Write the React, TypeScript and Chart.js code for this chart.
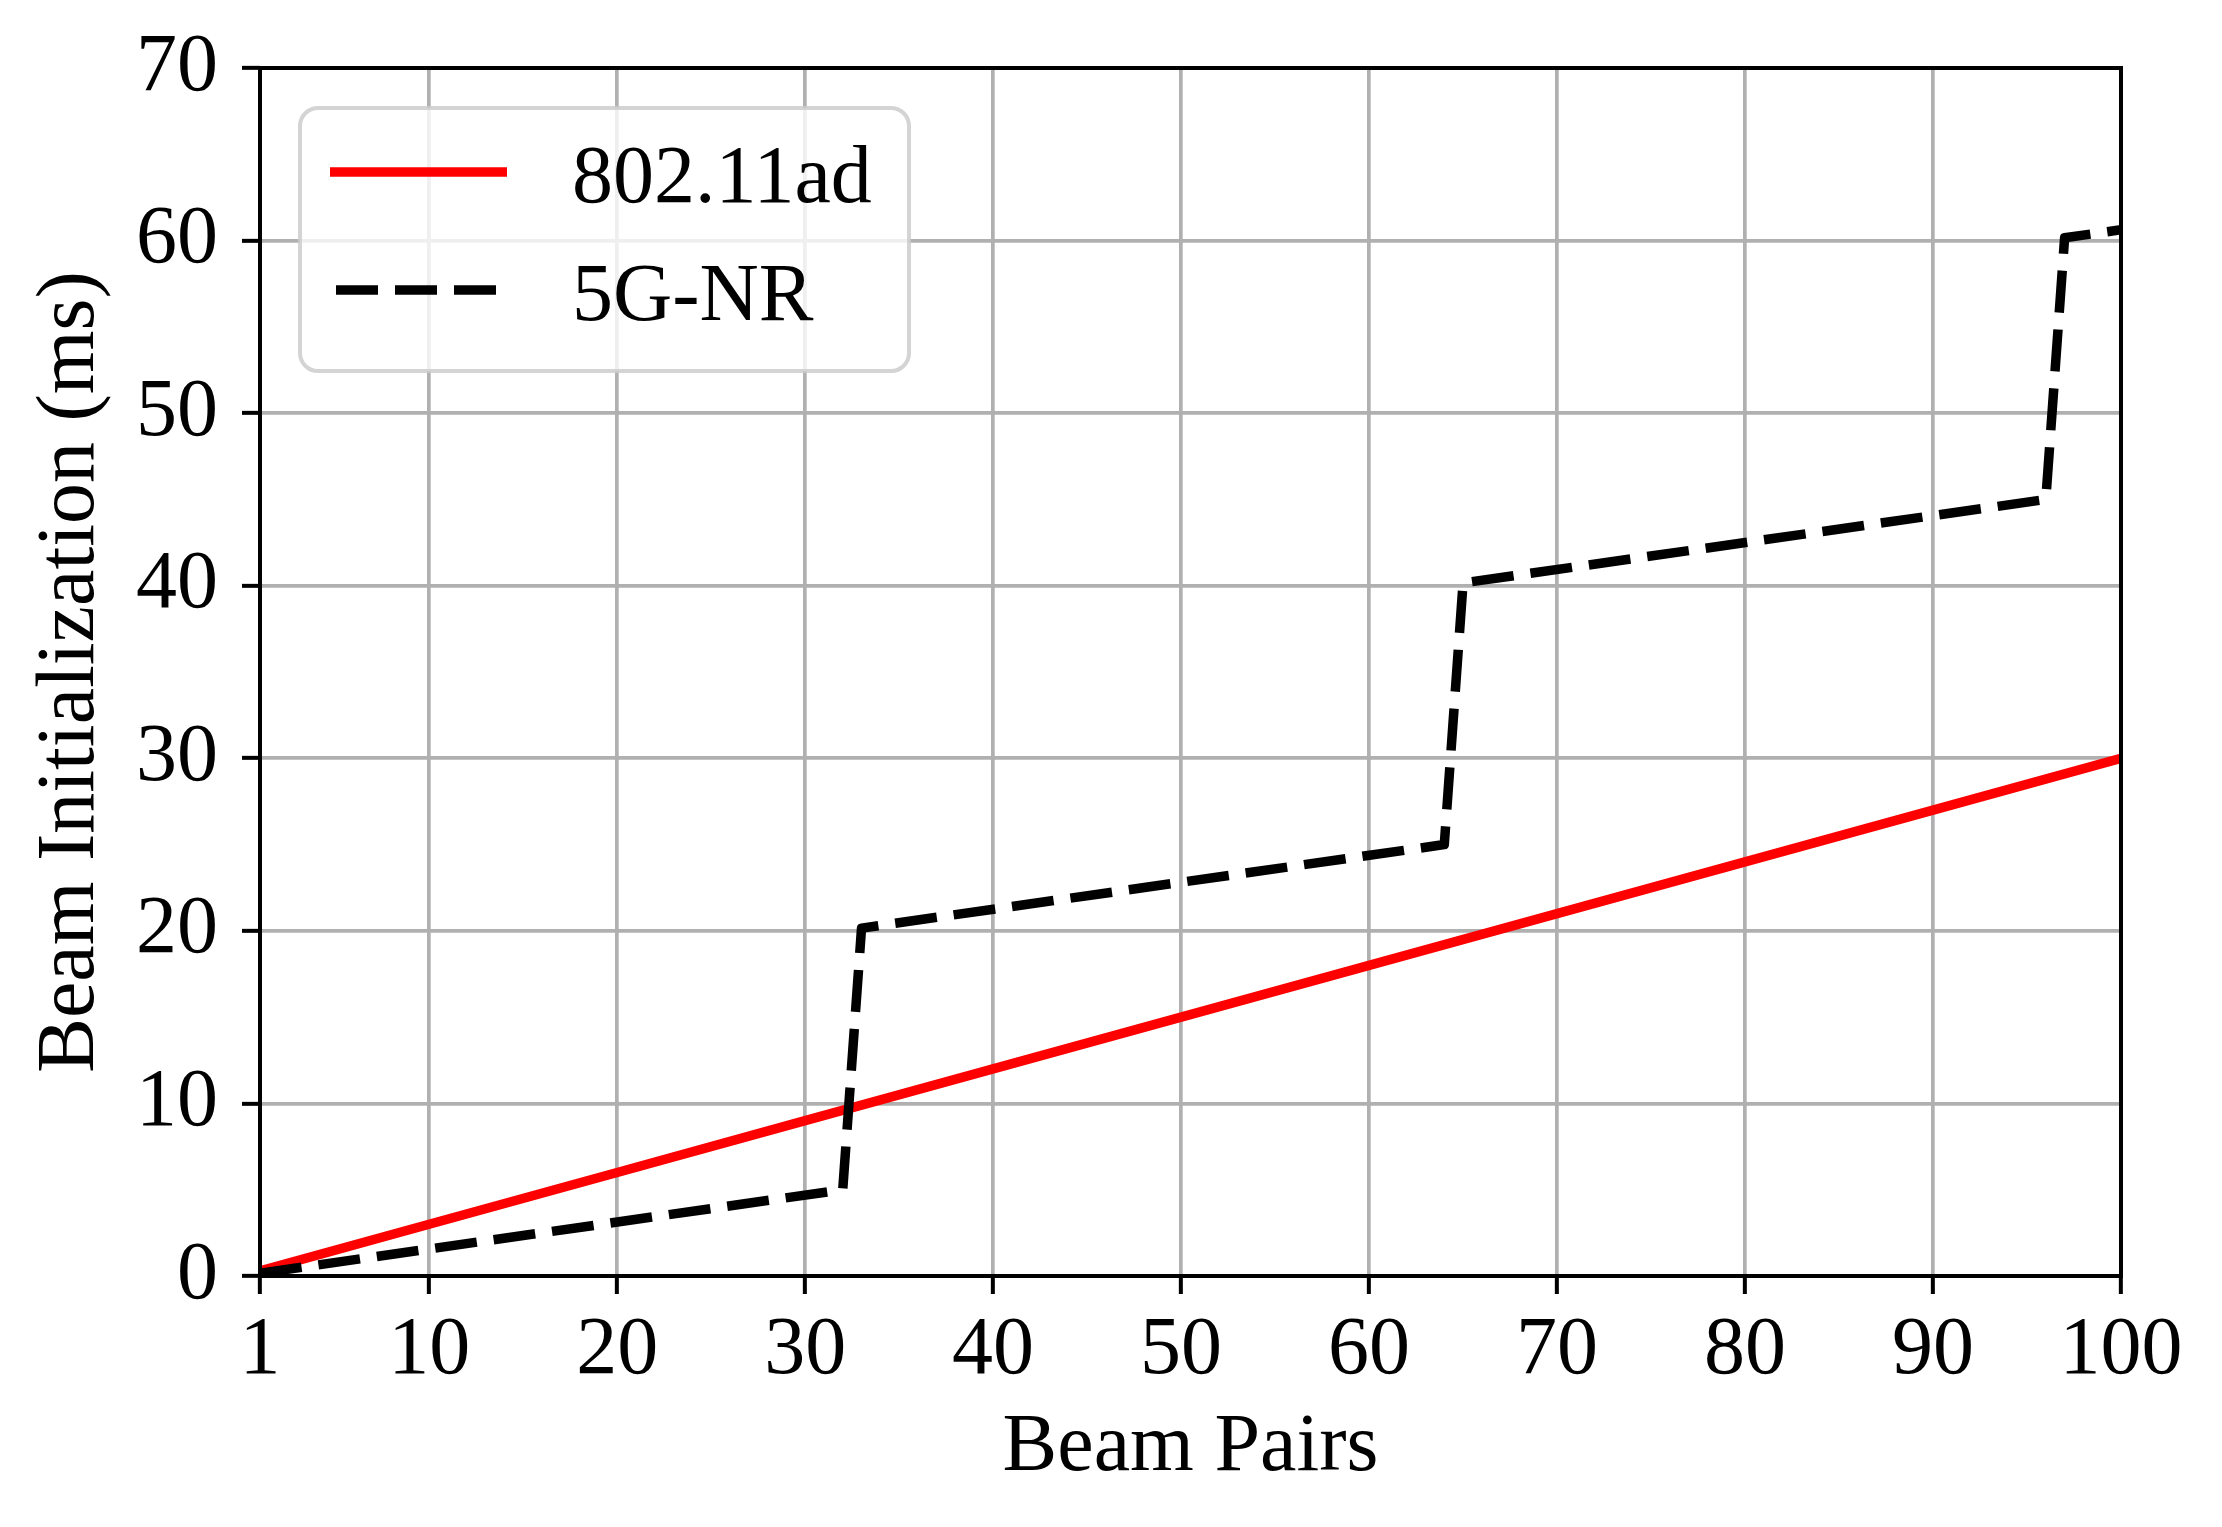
import React, { useEffect, useRef } from "react";
import { Chart, registerables } from "chart.js";

Chart.register(...registerables);

// beam pairs vs. beam initialization time (ms)
const adBeams = [1, 10, 20, 30, 40, 50, 60, 70, 80, 90, 100];
const adTimes = [0.3, 3, 6, 9, 12, 15, 18, 21, 24, 27, 30];
const nrBeams = [1, 32, 33, 64, 65, 96, 97, 100];
const nrTimes = [0.16, 5, 20.16, 25, 40.16, 45, 60.16, 60.63];

const xTicks = [1, 10, 20, 30, 40, 50, 60, 70, 80, 90, 100];
const seriesNames = ["802.11ad", "5G-NR"];

const FONT = '"Liberation Serif", "Times New Roman", serif';
const FONT_SIZE = 82;
const LINE_W = 9.5;
const DASH = [42, 17];

const frame = {
  id: "frame",
  afterDatasetsDraw(chart) {
    const { ctx, chartArea: a } = chart;
    ctx.save();
    ctx.strokeStyle = "#000";
    ctx.lineWidth = 4;
    ctx.strokeRect(a.left, a.top, a.right - a.left, a.bottom - a.top);
    ctx.restore();
  },
};

const boxLegend = {
  id: "boxLegend",
  afterDraw(chart) {
    const { ctx } = chart;
    ctx.save();
    ctx.beginPath();
    ctx.roundRect(300, 108, 609, 263, 18);
    ctx.fillStyle = "rgba(255,255,255,0.8)";
    ctx.fill();
    ctx.strokeStyle = "rgba(204,204,204,0.85)";
    ctx.lineWidth = 4;
    ctx.stroke();

    ctx.font = `${FONT_SIZE}px ${FONT}`;
    ctx.textBaseline = "alphabetic";
    ctx.textAlign = "left";
    chart.data.datasets.forEach((ds, i) => {
      const y = 172 + i * 118;
      ctx.beginPath();
      ctx.strokeStyle = ds.borderColor;
      ctx.lineWidth = LINE_W;
      ctx.lineCap = "butt";
      ctx.setLineDash(ds.borderDash || []);
      if (ds.borderDash) {
        ctx.moveTo(336, y);
        ctx.lineTo(497, y);
      } else {
        ctx.moveTo(330, y);
        ctx.lineTo(507, y);
      }
      ctx.stroke();
      ctx.setLineDash([]);
      ctx.fillStyle = "#000";
      ctx.fillText(ds.label, 572, y + 30);
    });
    ctx.restore();
  },
};

export default function App() {
  const canvasRef = useRef(null);

  useEffect(() => {
    document.body.style.margin = "0";
    const ctx = canvasRef.current.getContext("2d");

    const chart = new Chart(ctx, {
      type: "line",
      data: {
        datasets: [
          {
            label: seriesNames[0],
            data: adBeams.map((x, i) => ({ x, y: adTimes[i] })),
            borderColor: "#ff0000",
            borderWidth: LINE_W,
            pointRadius: 0,
            tension: 0,
            clip: 0,
            order: 2,
          },
          {
            label: seriesNames[1],
            data: nrBeams.map((x, i) => ({ x, y: nrTimes[i] })),
            borderColor: "#000000",
            borderWidth: LINE_W,
            borderDash: DASH,
            borderCapStyle: "butt",
            borderJoinStyle: "round",
            pointRadius: 0,
            tension: 0,
            clip: 0,
            order: 1,
          },
        ],
      },
      options: {
        responsive: false,
        animation: false,
        devicePixelRatio: 1,
        layout: { padding: { top: 68, right: 101, left: 0, bottom: 0 } },
        plugins: {
          legend: { display: false },
          tooltip: { enabled: false },
        },
        scales: {
          x: {
            type: "linear",
            min: 1,
            max: 100,
            afterBuildTicks: (scale) => {
              scale.ticks = xTicks.map((v) => ({ value: v }));
            },
            afterFit: (scale) => {
              scale.height = 251;
              scale.paddingLeft = 0;
              scale.paddingRight = 0;
            },
            border: { display: false },
            grid: {
              color: "#b0b0b0",
              lineWidth: 3.7,
              tickColor: "#000",
              tickLength: 18,
              tickWidth: 4,
            },
            ticks: {
              color: "#000",
              font: { family: FONT, size: FONT_SIZE },
              padding: 8,
              maxRotation: 0,
              autoSkip: false,
              callback: (v) => String(v),
            },
            title: {
              display: true,
              text: "Beam Pairs",
              color: "#000",
              font: { family: FONT, size: FONT_SIZE },
              padding: { top: 0, bottom: 29 },
            },
          },
          y: {
            min: 0,
            max: 70,
            afterFit: (scale) => {
              scale.width = 260;
              scale.paddingTop = 0;
              scale.paddingBottom = 0;
            },
            border: { display: false },
            grid: {
              color: "#b0b0b0",
              lineWidth: 3.7,
              tickColor: "#000",
              tickLength: 18,
              tickWidth: 4,
            },
            ticks: {
              stepSize: 10,
              color: "#000",
              font: { family: FONT, size: FONT_SIZE },
              padding: 24,
            },
            title: {
              display: true,
              text: "Beam Initialization (ms)",
              color: "#000",
              font: { family: FONT, size: FONT_SIZE },
              padding: { top: 22, bottom: 0 },
            },
          },
        },
      },
      plugins: [frame, boxLegend],
    });

    return () => {
      chart.destroy();
    };
  }, []);

  return <canvas ref={canvasRef} width={2222} height={1527} />;
}
